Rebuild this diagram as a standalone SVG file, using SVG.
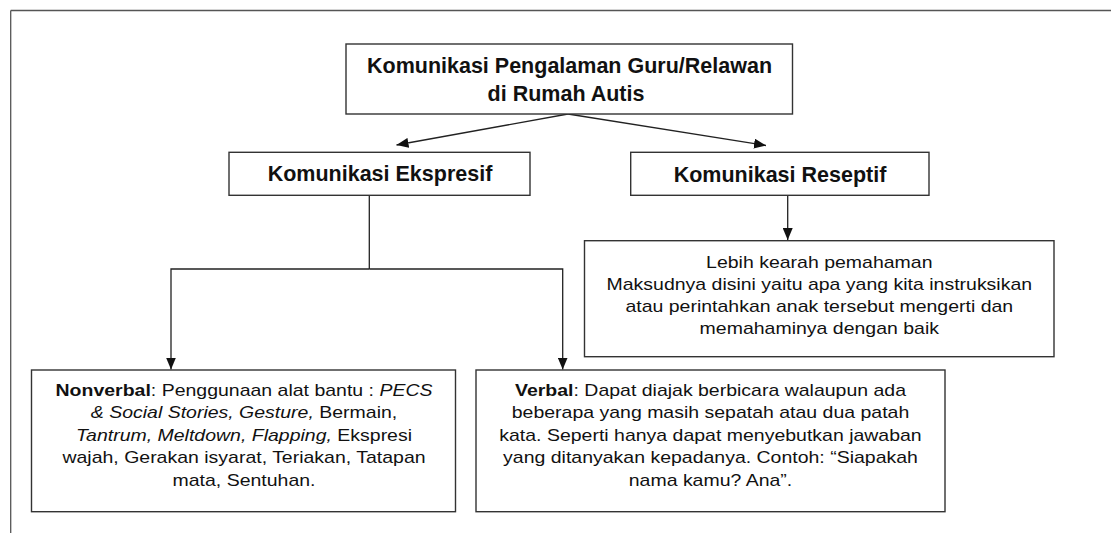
<svg xmlns="http://www.w3.org/2000/svg" width="1111" height="533" viewBox="0 0 1111 533">
<style>
  .frame{fill:none;stroke:#555;stroke-width:1.3}
  .box{fill:#fff;stroke:#333;stroke-width:1.4}
  .conn{fill:none;stroke:#222;stroke-width:1.3}
  .head{font-family:"Liberation Sans",Arial,sans-serif;font-weight:bold;font-size:21.5px;fill:#111;text-anchor:middle}
  .body{font-family:"Liberation Sans",Arial,sans-serif;font-size:17.4px;fill:#111;text-anchor:middle}
  .b{font-weight:bold}
  .i{font-style:italic}
</style>
<defs>
  <marker id="arr" markerUnits="userSpaceOnUse" markerWidth="13" markerHeight="10" refX="12" refY="5" orient="auto">
    <path d="M0,0 L12,5 L0,10 z" fill="#111"/>
  </marker>
</defs>
<rect width="1111" height="533" fill="#fff"/>
<g id="frame">
  <line class="frame" x1="10.7" y1="10.5" x2="1111" y2="10.5"/>
  <line class="frame" x1="10.7" y1="10.5" x2="10.7" y2="533"/>
</g>
<g id="connectors">
  <line class="conn" x1="568" y1="114" x2="396.5" y2="145" marker-end="url(#arr)"/>
  <line class="conn" x1="568" y1="114" x2="766" y2="145.5" marker-end="url(#arr)"/>
  <line class="conn" x1="787.7" y1="195.5" x2="787.7" y2="240" marker-end="url(#arr)"/>
  <polyline class="conn" points="369.3,195.3 369.3,269"/>
  <polyline class="conn" points="369.3,269 171,269 171,369.5" marker-end="url(#arr)"/>
  <polyline class="conn" points="369.3,269 562.7,269 562.7,369.5" marker-end="url(#arr)"/>
</g>
<g id="node-root">
  <rect class="box" x="346" y="44" width="446.5" height="70"/>
  <text class="head" x="569.5" y="73">Komunikasi Pengalaman Guru/Relawan</text>
  <text class="head" x="566" y="100.5">di Rumah Autis</text>
</g>
<g id="node-ekspresif">
  <rect class="box" x="229" y="152.3" width="301" height="43"/>
  <text class="head" x="380" y="181">Komunikasi Ekspresif</text>
</g>
<g id="node-reseptif">
  <rect class="box" x="630.7" y="152.3" width="298.3" height="43"/>
  <text class="head" x="780" y="181.5">Komunikasi Reseptif</text>
</g>
<g id="node-pemahaman">
  <rect class="box" x="584.5" y="240.7" width="469.5" height="116"/>
  <g transform="translate(819.3,268) scale(1.12,1)">
    <text class="body" x="0" y="0">Lebih kearah pemahaman</text>
    <text class="body" x="0" y="22">Maksudnya disini yaitu apa yang kita instruksikan</text>
    <text class="body" x="0" y="44">atau perintahkan anak tersebut mengerti dan</text>
    <text class="body" x="0" y="66">memahaminya dengan baik</text>
  </g>
</g>
<g id="node-nonverbal">
  <rect class="box" x="31.5" y="370" width="424" height="141.7"/>
  <g transform="translate(244,396) scale(1.12,1)">
    <text class="body" x="0" y="0"><tspan class="b">Nonverbal</tspan>: Penggunaan alat bantu : <tspan class="i">PECS</tspan></text>
    <text class="body" x="0" y="22.5"><tspan class="i">&amp; Social Stories, Gesture,</tspan> Bermain,</text>
    <text class="body" x="0" y="45"><tspan class="i">Tantrum, Meltdown, Flapping,</tspan> Ekspresi</text>
    <text class="body" x="0" y="67.5">wajah, Gerakan isyarat, Teriakan, Tatapan</text>
    <text class="body" x="0" y="90">mata, Sentuhan.</text>
  </g>
</g>
<g id="node-verbal">
  <rect class="box" x="476" y="370" width="469" height="141.7"/>
  <g transform="translate(710.5,396) scale(1.12,1)">
    <text class="body" x="0" y="0"><tspan class="b">Verbal</tspan>: Dapat diajak berbicara walaupun ada</text>
    <text class="body" x="0" y="22.5">beberapa yang masih sepatah atau dua patah</text>
    <text class="body" x="0" y="45">kata. Seperti hanya dapat menyebutkan jawaban</text>
    <text class="body" x="0" y="67.5">yang ditanyakan kepadanya. Contoh: “Siapakah</text>
    <text class="body" x="0" y="90">nama kamu? Ana”.</text>
  </g>
</g>
</svg>
